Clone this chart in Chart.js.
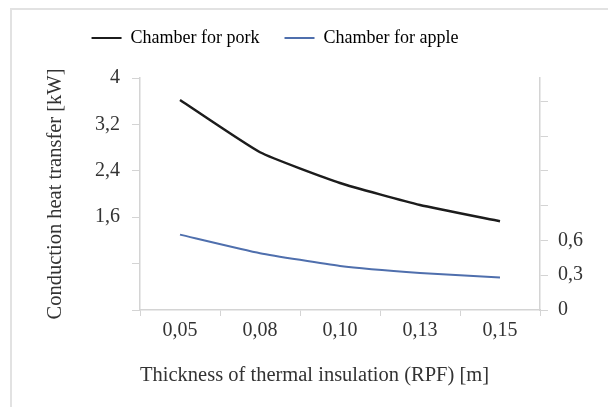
<!DOCTYPE html>
<html>
<head>
<meta charset="utf-8">
<script src="https://cdn.jsdelivr.net/npm/chart.js@4"></script>
<style>
  html, body { margin: 0; padding: 0; background: #fff; }
  #wrap { position: relative; width: 608px; height: 407px; overflow: hidden; }
  #frame {
    position: absolute; left: 10px; top: 8px; width: 700px; height: 500px;
    border-left: 2px solid #e2e2e2; border-top: 2px solid #e2e2e2;
  }
  canvas { position: absolute; left: 0; top: 0; }
</style>
</head>
<body>
<div id="wrap">
  <div id="frame"></div>
  <canvas id="chart" width="608" height="407"></canvas>
</div>
<script>
const thickness = ["0,05", "0,08", "0,10", "0,13", "0,15"];
const porkLoad = [3.62, 2.72, 2.19, 1.81, 1.53];
const appleLoad = [0.65, 0.49, 0.38, 0.32, 0.28];
const seriesNames = ["Chamber for pork", "Chamber for apple"];
const seriesColors = ["#1c1c1c", "#4f6fad"];

const serif = '"Liberation Serif", "Times New Roman", serif';
const textColor = "#333333";
const axisColor = "#d4d4d4";

// comma as decimal separator, drop trailing zeros
function fmt(v) {
  return String(Number(v.toFixed(2))).replace(".", ",");
}

// the legend in the original sits left of centre: narrow its box before drawing
const legendShift = {
  id: "legendShift",
  afterLayout(chart) {
    const lg = chart.legend;
    lg.right = 550;
    lg.width = lg.right - lg.left;
  },
};

new Chart(document.getElementById("chart"), {
  type: "line",
  data: {
    labels: thickness,
    datasets: [
      {
        label: seriesNames[0],
        data: porkLoad,
        yAxisID: "y",
        borderColor: seriesColors[0],
        backgroundColor: seriesColors[0],
        borderWidth: 2.5,
        pointRadius: 0,
        tension: 0.15,
      },
      {
        label: seriesNames[1],
        data: appleLoad,
        yAxisID: "y1",
        borderColor: seriesColors[1],
        backgroundColor: seriesColors[1],
        borderWidth: 2,
        pointRadius: 0,
        tension: 0.15,
      },
    ],
  },
  plugins: [legendShift],
  options: {
    responsive: false,
    animation: false,
    layout: { padding: { top: 4, right: 18, bottom: 0, left: 0 } },
    plugins: {
      tooltip: { enabled: false },
      legend: {
        position: "top",
        labels: {
          color: textColor,
          font: { family: serif, size: 18 },
          boxWidth: 30,
          boxHeight: 2,
          padding: 25,
          generateLabels: (chart) =>
            chart.data.datasets.map((ds, i) => ({
              text: ds.label,
              fillStyle: ds.borderColor,
              strokeStyle: ds.borderColor,
              lineWidth: 0,
              datasetIndex: i,
            })),
        },
      },
      // empty spacer between legend and plot area
      title: {
        display: true,
        text: "",
        weight: 500,
        padding: 0,
        font: { size: 21, lineHeight: 1 },
      },
    },
    scales: {
      x: {
        offset: true,
        grid: {
          offset: true,
          drawOnChartArea: false,
          color: axisColor,
          tickLength: 6,
        },
        border: { color: axisColor, width: 1.5 },
        ticks: {
          color: textColor,
          font: { family: serif, size: 20 },
          padding: 3,
          maxRotation: 0,
        },
        title: {
          display: true,
          text: "Thickness of thermal insulation (RPF) [m]",
          align: "start",
          color: textColor,
          font: { family: serif, size: 20.5 },
          padding: { top: 0, bottom: 19 },
        },
        afterFit: (scale) => {
          scale.height = 97;
        },
      },
      y: {
        position: "left",
        min: 0,
        max: 4,
        grid: {
          drawOnChartArea: false,
          color: axisColor,
          tickLength: 8,
        },
        border: { color: axisColor, width: 1.5 },
        ticks: {
          stepSize: 0.8,
          color: textColor,
          font: { family: serif, size: 20 },
          padding: 12,
          callback: (v) => (v >= 1.59 ? fmt(v) : ""),
        },
        title: {
          display: true,
          text: "Conduction heat transfer [kW]",
          color: textColor,
          font: { family: serif, size: 20.5 },
          padding: { top: 43, bottom: 0 },
        },
        afterFit: (scale) => {
          scale.width = 140;
        },
      },
      y1: {
        position: "right",
        min: 0,
        max: 2.0,
        grid: {
          drawOnChartArea: false,
          color: axisColor,
          tickLength: 8,
        },
        border: { color: axisColor, width: 1.5 },
        ticks: {
          stepSize: 0.3,
          includeBounds: false,
          color: textColor,
          font: { family: serif, size: 20 },
          padding: 10,
          callback: (v) => (v <= 0.61 ? fmt(v) : ""),
        },
        afterFit: (scale) => {
          scale.width = 50;
        },
      },
    },
  },
});
</script>
</body>
</html>
